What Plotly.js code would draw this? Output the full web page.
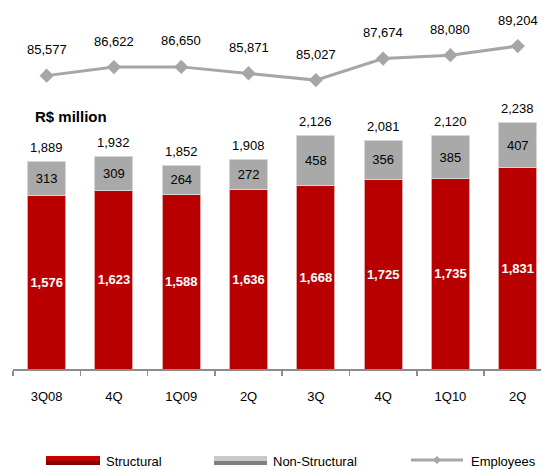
<!DOCTYPE html>
<html><head><meta charset="utf-8">
<script src="https://cdn.plot.ly/plotly-3.0.1.min.js"></script>
<style>html,body{margin:0;padding:0;background:#fff}#chart{width:541px;height:470px}</style>
</head><body><div id="chart"></div>
<script>
// ---- data ----
const categories = ['3Q08','4Q','1Q09','2Q','3Q','4Q','1Q10','2Q'];
const structural = [1576,1623,1588,1636,1668,1725,1735,1831];
const nonStructural = [313,309,264,272,458,356,385,407];
const employees = [85577,86622,86650,85871,85027,87674,88080,89204];
const seriesNames = ['Structural','Non-Structural','Employees'];
const unitLabel = 'R$ million';

// ---- layout helpers ----
const W = 541, H = 470;
const M = {l:13, r:0, t:0, b:101};
const plotW = W - M.l - M.r, plotH = H - M.t - M.b;
const catPx = 67.3;
const xIdx = categories.map((_, i) => i);
const boundaries = categories.map((_, i) => i - 0.5).concat([categories.length - 0.5]);
const totals = structural.map((v, i) => v + nonStructural[i]);
const fmt = v => String(v).replace(/\B(?=(\d{3})+(?!\d))/g, ',');
const px = x => (x - M.l) / plotW;
const py = y => (M.t + plotH - y) / plotH;
const FONT = 'Liberation Sans, Arial, sans-serif';

const traces = [
  {
    type: 'bar', name: seriesNames[0], x: xIdx, y: structural,
    width: 0.565,
    marker: {color: '#B80000', line: {color: '#E3A3A3', width: 1}},
    text: structural.map(fmt), textposition: 'inside', insidetextanchor: 'middle',
    textangle: 0, constraintext: 'none',
    textfont: {family: FONT, size: 13, color: '#ffffff', weight: 'bold'},
    hoverinfo: 'none'
  },
  {
    type: 'bar', name: seriesNames[1], x: xIdx, y: nonStructural,
    width: 0.565,
    marker: {color: '#A9A9A9', line: {color: '#D6D6D6', width: 1}},
    text: nonStructural.map(fmt), textposition: 'inside', insidetextanchor: 'middle',
    textangle: 0, constraintext: 'none',
    textfont: {family: FONT, size: 13, color: '#000000'},
    hoverinfo: 'none'
  },
  {
    type: 'scatter', name: seriesNames[2], x: xIdx, y: employees, yaxis: 'y2',
    mode: 'lines+markers',
    line: {color: '#A6A6A6', width: 3},
    marker: {symbol: 'diamond', size: 11, color: '#A6A6A6'},
    cliponaxis: false, hoverinfo: 'none'
  }
];

const annotations = [];
totals.forEach((v, i) => annotations.push({
  x: i, y: v, xref: 'x', yref: 'y', text: fmt(v), showarrow: false,
  yanchor: 'middle', yshift: 14, font: {family: FONT, size: 13, color: '#000'}
}));
employees.forEach((v, i) => annotations.push({
  x: i, y: v, xref: 'x', yref: 'y2', text: fmt(v), showarrow: false,
  yanchor: 'middle', yshift: 26, font: {family: FONT, size: 13, color: '#000'}
}));
annotations.push({
  x: px(33), y: py(117), xref: 'paper', yref: 'paper', text: '<b>' + unitLabel + '</b>',
  showarrow: false, xanchor: 'left', yanchor: 'middle',
  font: {family: FONT, size: 15, color: '#000'}
});

// custom legend
const legendItems = [
  {x0: 46, x1: 100, tx: 104, kind: 'bar', top: '#C40000', bottom: '#7E0000'},
  {x0: 214, x1: 267, tx: 271, kind: 'bar', top: '#C9C9C9', bottom: '#7F7F7F'},
  {x0: 411, x1: 463, tx: 469, kind: 'line', color: '#A6A6A6'}
];
const shapes = [];
const legY = 461;
legendItems.forEach((it, k) => {
  if (it.kind === 'bar') {
    shapes.push({type: 'rect', xref: 'paper', yref: 'paper', x0: px(it.x0), x1: px(it.x1),
      y0: py(legY - 5), y1: py(legY), fillcolor: it.top, line: {width: 0}});
    shapes.push({type: 'rect', xref: 'paper', yref: 'paper', x0: px(it.x0), x1: px(it.x1),
      y0: py(legY + 4), y1: py(legY), fillcolor: it.bottom, line: {width: 0}});
  } else {
    shapes.push({type: 'line', xref: 'paper', yref: 'paper', x0: px(it.x0), x1: px(it.x1),
      y0: py(legY - 1), y1: py(legY - 1), line: {color: it.color, width: 3}});
    const cx = (it.x0 + it.x1) / 2, cy = legY - 1;
    const P = (a, b) => px(a) + ',' + py(b);
    shapes.push({type: 'path', xref: 'paper', yref: 'paper',
      path: 'M' + P(cx, cy - 4) + 'L' + P(cx + 4, cy) + 'L' + P(cx, cy + 4) + 'L' + P(cx - 4, cy) + 'Z',
      fillcolor: it.color, line: {width: 0}});
  }
  annotations.push({x: px(it.tx), y: py(legY), xref: 'paper', yref: 'paper',
    text: seriesNames[k], showarrow: false, xanchor: 'left', yanchor: 'middle',
    font: {family: FONT, size: 13, color: '#000'}});
});

const layout = {
  width: W, height: H, margin: M,
  paper_bgcolor: '#ffffff', plot_bgcolor: '#ffffff',
  font: {family: FONT, size: 13, color: '#000'},
  barmode: 'stack', showlegend: false,
  xaxis: {
    range: [-0.5, -0.5 + plotW / catPx], tickmode: 'array', tickvals: xIdx, ticktext: categories,
    ticks: '', showline: true, linecolor: '#8C8C8C', linewidth: 2,
    showgrid: false, zeroline: false, fixedrange: true,
    tickfont: {family: FONT, size: 13, color: '#000'}, ticklabelstandoff: 14,
    minor: {tickmode: 'array', tickvals: boundaries, ticks: 'outside', ticklen: 5,
      tickcolor: '#8C8C8C', tickwidth: 1.5, showgrid: false}
  },
  yaxis: {range: [0, 3355], visible: false, fixedrange: true},
  yaxis2: {range: [49585, 94855], overlaying: 'y', visible: false, fixedrange: true},
  annotations: annotations,
  shapes: shapes
};

Plotly.newPlot('chart', traces, layout, {staticPlot: true, displayModeBar: false});
</script>
</body></html>
